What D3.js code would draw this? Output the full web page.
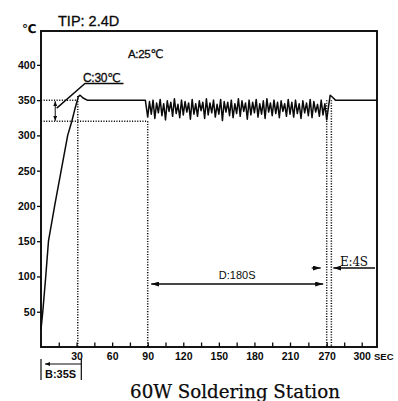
<!DOCTYPE html>
<html><head><meta charset="utf-8">
<script src="https://cdn.jsdelivr.net/npm/d3@7"></script>
<style>
html,body{margin:0;padding:0;background:#fff;}
svg{display:block;}
.sans{font-family:"Liberation Sans",Arial,"DejaVu Sans",sans-serif;}
.serif{font-family:"DejaVu Serif","Liberation Serif","Times New Roman",serif;}
</style>
</head><body>
<svg id="chart" width="398" height="401"></svg>
<script>
// ---------------- DATA ----------------
const chartTitle = "60W Soldering Station";
const tipLabel = "TIP: 2.4D";
const unitY = "℃";
const unitX = "SEC";
// Heat-up ramp (time s, temperature ℃)
const rampTimes = [0, 1.5, 4, 6.3, 11.5, 17, 22.5, 26, 29, 31.5, 33, 35.5, 39, 88, 89];
const rampTemps = [25, 50, 100, 150, 200, 250, 300, 320, 340, 355, 357, 353, 350, 350, 338];
// Soldering load, sampled every 1.5 s from 90 s to 210 s
const soakStart1 = 90, soakStep1 = 1.5;
const soakTemps1 = [326,348,330,350,324,346,332,351,328,345,
                    322,349,334,347,327,352,331,344,325,350,
                    329,348,333,346,323,351,330,345,327,349,
                    335,347,324,352,329,346,332,350,326,344,
                    330,351,321,348,333,347,328,350,325,345,
                    331,352,327,349,334,346,323,350,329,347,
                    332,351,326,345,330,349,324,352,333,346,
                    328,350,331,347,325,349,334,345,327,351,
                    330];
// Soldering load, sampled every 3 s from 213 s to 270 s
const soakStart2 = 213, soakStep2 = 3;
const soakTemps2 = [347,326,350,331,345,324,349,332,346,328,
                    351,325,348,333,344,327,350,329,345,322];
// Recovery after load removed
const recoveryTimes = [271.5, 273, 275, 277.5, 313];
const recoveryTemps = [340, 357, 354, 350, 350];

const yTickValues = [50,100,150,200,250,300,350,400];
const xTickValues = [15,30,45,60,75,90,105,120,135,150,165,180,195,210,240,270,285,300];
const xTickLabels = {30:"30",60:"60",90:"90",120:"120",150:"150",180:"180",210:"210",270:"270",300:"300"};

const setTemp = 350, lowTemp = 320;
const peakTime = 31, loadStart = 90, loadEnd = 270, recoverEnd = 274;
const cTime = 12, bEnd = 34;
const annA = "A:25℃", annB = "B:35S", annC = "C:30℃", annD = "D:180S", annE = "E:4S";

// ---------------- CHART ----------------
const svg = d3.select("#chart");
const ink = "#0a0a0a";
const x = d3.scaleLinear().domain([0, 210, 270, 300, 313]).range([41, 290, 326.7, 361.7, 377]);
const y = d3.scaleLinear().domain([0, 448]).range([347, 31]);

const defs = svg.append("defs");
function marker(id, w, h){
  defs.append("marker").attr("id", id)
    .attr("viewBox", `0 0 ${w} ${h}`).attr("refX", w).attr("refY", h/2)
    .attr("markerWidth", w).attr("markerHeight", h)
    .attr("markerUnits", "userSpaceOnUse").attr("orient", "auto-start-reverse")
    .append("path").attr("d", `M0,0L${w},${h/2}L0,${h}Z`).attr("fill", ink);
}
marker("arr", 8, 5);
marker("arrS", 5, 4);

// frame
svg.append("rect").attr("x", x(0)).attr("y", y(448)).attr("width", x(313)-x(0)).attr("height", y(0)-y(448))
  .attr("fill", "none").attr("stroke", ink).attr("stroke-width", 1.9);

// axes
const xAxis = d3.axisBottom(x).tickValues(xTickValues).tickSize(-4.5).tickPadding(5.5)
  .tickFormat(d => xTickLabels[d] || "");
const gx = svg.append("g").attr("transform", `translate(0,${y(0)})`).call(xAxis);
gx.select(".domain").remove();
gx.selectAll("line").attr("stroke", ink).attr("stroke-width", 1.3);
gx.selectAll("text").attr("class", "sans").attr("font-size", 10.5).attr("font-weight", "bold").attr("fill", ink);

const yAxis = d3.axisLeft(y).tickValues(yTickValues).tickSize(4).tickPadding(1.5);
const gy = svg.append("g").attr("transform", `translate(${x(0)},0)`).call(yAxis);
gy.select(".domain").remove();
gy.selectAll("line").attr("stroke", ink).attr("stroke-width", 1.3);
gy.selectAll("text").attr("class", "sans").attr("font-size", 10.5).attr("font-weight", "bold").attr("fill", ink);

// unit labels
svg.append("text").attr("class","sans").attr("x", x(313)-3).attr("y", 359.5).attr("font-size", 9.5)
  .attr("font-weight","bold").attr("fill", ink).text(unitX);
svg.append("text").attr("class","sans").attr("x", 22).attr("y", 33).attr("font-size", 12)
  .attr("font-weight","bold").attr("fill", ink).text(unitY);
svg.append("text").attr("class","sans").attr("x", 58).attr("y", 26).attr("font-size", 14.5)
  .attr("fill", ink).attr("stroke", ink).attr("stroke-width", 0.3).text(tipLabel);

// dotted guide lines
const dot = {stroke: ink, "stroke-width": 1.5, "stroke-dasharray": "1.1,1.5"};
function dline(x1,y1,x2,y2){
  const l = svg.append("line").attr("x1",x1).attr("y1",y1).attr("x2",x2).attr("y2",y2);
  Object.entries(dot).forEach(([k,v]) => l.attr(k,v));
}
dline(x(0), y(setTemp), x(peakTime), y(setTemp));
dline(x(0), y(lowTemp), x(loadStart), y(lowTemp));
dline(x(peakTime), y(356), x(peakTime), y(0));
dline(x(loadStart), y(lowTemp), x(loadStart), y(0));
dline(x(loadEnd), y(setTemp), x(loadEnd), y(0));
dline(x(recoverEnd), y(setTemp), x(recoverEnd), y(0));

// curve
const pts = [];
rampTimes.forEach((t,i) => pts.push([t, rampTemps[i]]));
soakTemps1.forEach((v,i) => pts.push([soakStart1 + i*soakStep1, v]));
soakTemps2.forEach((v,i) => pts.push([soakStart2 + i*soakStep2, v]));
recoveryTimes.forEach((t,i) => pts.push([t, recoveryTemps[i]]));
svg.append("path").datum(pts)
  .attr("d", d3.line().x(d => x(d[0])).y(d => y(d[1])))
  .attr("fill", "none").attr("stroke", ink).attr("stroke-width", 1.5).attr("stroke-linejoin", "round");

// annotation A
svg.append("text").attr("class","sans").attr("x", 128).attr("y", 57.5).attr("font-size", 11.5)
  .attr("fill", ink).attr("stroke", ink).attr("stroke-width", 0.3).attr("letter-spacing", -0.3).text(annA);

// annotation C
svg.append("line").attr("x1", x(cTime)).attr("y1", y(setTemp)+9).attr("x2", x(cTime)).attr("y2", y(setTemp)+1)
  .attr("stroke", ink).attr("stroke-width", 1).attr("marker-end", "url(#arrS)");
svg.append("line").attr("x1", x(cTime)).attr("y1", y(setTemp)+9).attr("x2", x(cTime)).attr("y2", y(lowTemp)-0.5)
  .attr("stroke", ink).attr("stroke-width", 1).attr("marker-end", "url(#arrS)");
svg.append("polyline").attr("points", `${x(cTime)+1.5},${y(setTemp)+8} 85,83.5 123.5,83.5`)
  .attr("fill","none").attr("stroke", ink).attr("stroke-width", 1.4);
svg.append("text").attr("class","sans").attr("x", 83).attr("y", 81.5).attr("font-size", 12)
  .attr("fill", ink).attr("stroke", ink).attr("stroke-width", 0.3).attr("letter-spacing", -0.3).text(annC);

// annotation D
svg.append("line").attr("x1", x(loadStart)+3.5).attr("y1", 284).attr("x2", x(loadEnd)-3.5).attr("y2", 284)
  .attr("stroke", ink).attr("stroke-width", 1.3)
  .attr("marker-start", "url(#arr)").attr("marker-end", "url(#arr)");
svg.append("text").attr("class","sans").attr("x", (x(loadStart)+x(loadEnd))/2).attr("y", 278.5)
  .attr("text-anchor","middle").attr("font-size", 11).attr("fill", ink).text(annD);

// annotation E
svg.append("line").attr("x1", x(loadEnd)-15).attr("y1", 268).attr("x2", x(loadEnd)-6).attr("y2", 268)
  .attr("stroke", ink).attr("stroke-width", 1.3).attr("marker-end", "url(#arr)");
svg.append("line").attr("x1", x(313)-2).attr("y1", 268).attr("x2", x(recoverEnd)+2).attr("y2", 268)
  .attr("stroke", ink).attr("stroke-width", 1.3).attr("marker-end", "url(#arr)");
svg.append("text").attr("class","serif").attr("x", 340).attr("y", 265.5).attr("font-size", 12)
  .attr("fill", ink).attr("letter-spacing", -0.2).text(annE);

// annotation B
const by0 = 359, by1 = 380, byl = 364;
svg.append("line").attr("x1", x(0)).attr("y1", by0).attr("x2", x(0)).attr("y2", by1).attr("stroke", ink).attr("stroke-width", 1.2);
svg.append("line").attr("x1", x(bEnd)).attr("y1", by0).attr("x2", x(bEnd)).attr("y2", by1).attr("stroke", ink).attr("stroke-width", 1.2);
svg.append("line").attr("x1", x(0)+4).attr("y1", byl).attr("x2", x(bEnd)).attr("y2", byl)
  .attr("stroke", ink).attr("stroke-width", 1).attr("marker-start", "url(#arrS)");
svg.append("text").attr("class","sans").attr("x", x(0)+4).attr("y", 378).attr("font-size", 11)
  .attr("font-weight","bold").attr("fill", ink).text(annB);

// title
const title = svg.append("text").attr("class","serif").attr("x", 235).attr("y", 398).attr("text-anchor","middle")
  .attr("font-size", 17).attr("fill", ink).attr("stroke", ink).attr("stroke-width", 0.25).text(chartTitle);
const tw = title.node().getComputedTextLength();
title.attr("font-size", 17 * 210 / tw);
</script>
</body></html>
